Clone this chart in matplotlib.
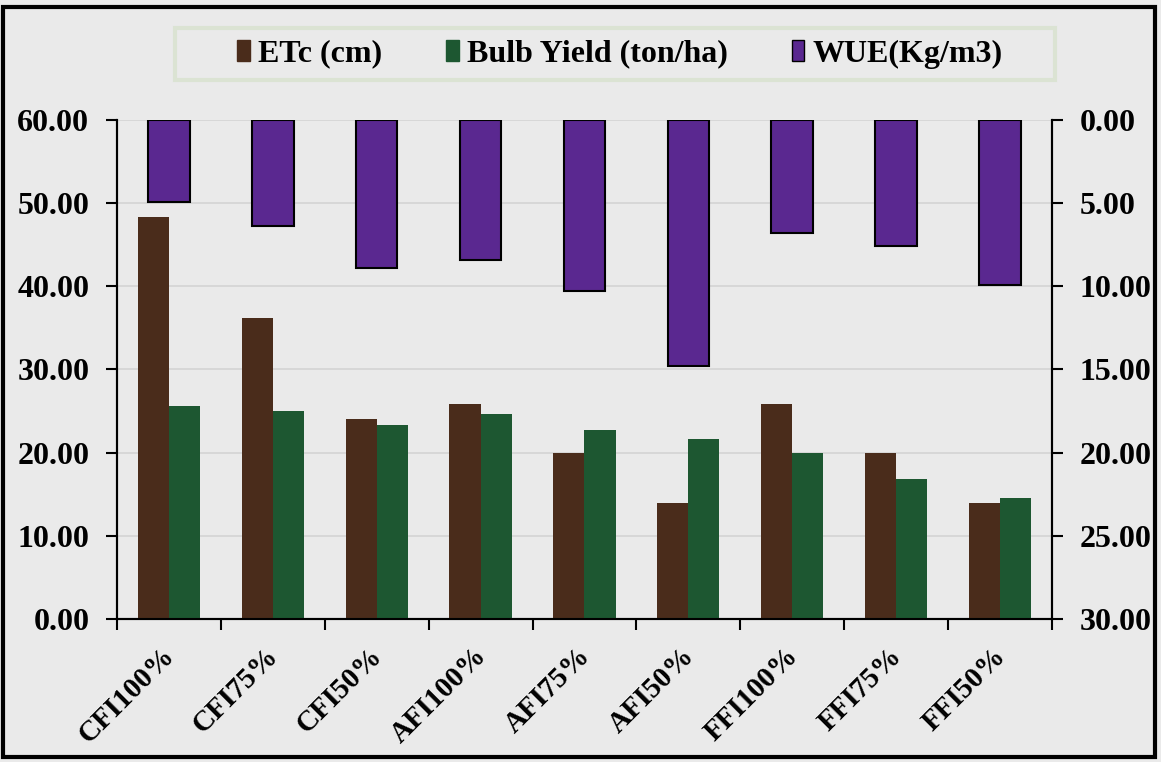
import matplotlib
matplotlib.use("Agg")
import matplotlib.pyplot as plt
import matplotlib.transforms as mtransforms
import numpy as np
from matplotlib.patches import Rectangle, Patch

# data
treatments = ["CFI100%", "CFI75%", "CFI50%", "AFI100%", "AFI75%", "AFI50%",
              "FFI100%", "FFI75%", "FFI50%"]
etc_cm = [48.3, 36.2, 24.1, 25.9, 20.0, 13.9, 25.9, 20.0, 13.9]
bulb_yield = [25.6, 25.0, 23.3, 24.7, 22.7, 21.7, 20.0, 16.8, 14.6]
wue = [4.9, 6.4, 8.9, 8.4, 10.3, 14.8, 6.8, 7.6, 9.9]

left_ticks = [0, 10, 20, 30, 40, 50, 60]
right_ticks = [0, 5, 10, 15, 20, 25, 30]

brown = "#4a2c1b"
green = "#1d5731"
purple = "#5a2890"
bg = "#eaeaea"

plt.rcParams["font.family"] = ["Liberation Serif", "DejaVu Serif"]
plt.rcParams["font.weight"] = "bold"

fig = plt.figure(figsize=(11.61, 7.62), dpi=100, facecolor=bg)
ax = fig.add_axes([0.1008, 0.1877, 0.8052, 0.6548], facecolor=bg)
ax2 = ax.twinx()

x = np.arange(len(treatments))
w = 0.3
ax.bar(x - w / 2, etc_cm, w, color=brown, zorder=3)
ax.bar(x + w / 2, bulb_yield, w, color=green, zorder=3)
ax2.bar(x, wue, 0.4, color=purple, edgecolor="black", linewidth=1.5, zorder=3)

ax.set_xlim(-0.5, len(treatments) - 0.5)
ax.set_ylim(0, 60)
ax.set_yticks(left_ticks)
ax.set_yticklabels([f"{v:.2f}" for v in left_ticks])
ax2.set_ylim(30, 0)
ax2.set_yticks(right_ticks)
ax2.set_yticklabels([f"{v:.2f}" for v in right_ticks])

ax.yaxis.grid(True, color="#d4d4d4", linewidth=1.2, zorder=0)
ax.set_axisbelow(True)

ax.set_xticks(x)
ax.set_xticklabels(treatments, rotation=45, ha="right", va="top",
                   rotation_mode="anchor")
ax.set_xticks(np.arange(-0.5, len(treatments)), minor=True)
ax.tick_params(axis="x", which="major", length=0, pad=14, labelsize=21)
ax.tick_params(axis="x", which="minor", length=8, width=1.5)
ax.tick_params(axis="y", length=8, width=1.5, labelsize=23, pad=12)
ax2.tick_params(axis="y", length=8, width=1.5, labelsize=23, pad=12)

offset = mtransforms.ScaledTranslation(-0.08, -0.04, fig.dpi_scale_trans)
for lab in ax.get_xticklabels():
    lab.set_transform(lab.get_transform() + offset)

for a in (ax, ax2):
    a.spines["top"].set_visible(False)
    for s in ("left", "right", "bottom"):
        a.spines[s].set_linewidth(1.5)
        a.spines[s].set_color("black")

for lab in ax.get_xticklabels() + ax.get_yticklabels() + ax2.get_yticklabels():
    lab.set_fontweight("bold")

handles = [Patch(facecolor=brown, edgecolor=brown, label="ETc (cm)"),
           Patch(facecolor=green, edgecolor=green, label="Bulb Yield (ton/ha)"),
           Patch(facecolor=purple, edgecolor="black", label="WUE(Kg/m3)")]
fig.legend(handles=handles, loc="center", bbox_to_anchor=(0.534, 0.929),
           ncol=3, frameon=False, prop={"weight": "bold", "size": 23},
           handlelength=0.4, handleheight=0.6, handletextpad=0.25,
           columnspacing=2.0)

# legend box
fig.patches.append(Rectangle((175 / 1161, 1 - 80 / 762), 880 / 1161, 52 / 762,
                             transform=fig.transFigure, fill=False,
                             edgecolor="#dbe3d3", linewidth=3))
# outer border
fig.patches.append(Rectangle((0.003, 0.006), 0.992, 0.985,
                             transform=fig.transFigure, fill=False,
                             edgecolor="black", linewidth=3))

fig.savefig("out.png", dpi=100, facecolor=bg)
